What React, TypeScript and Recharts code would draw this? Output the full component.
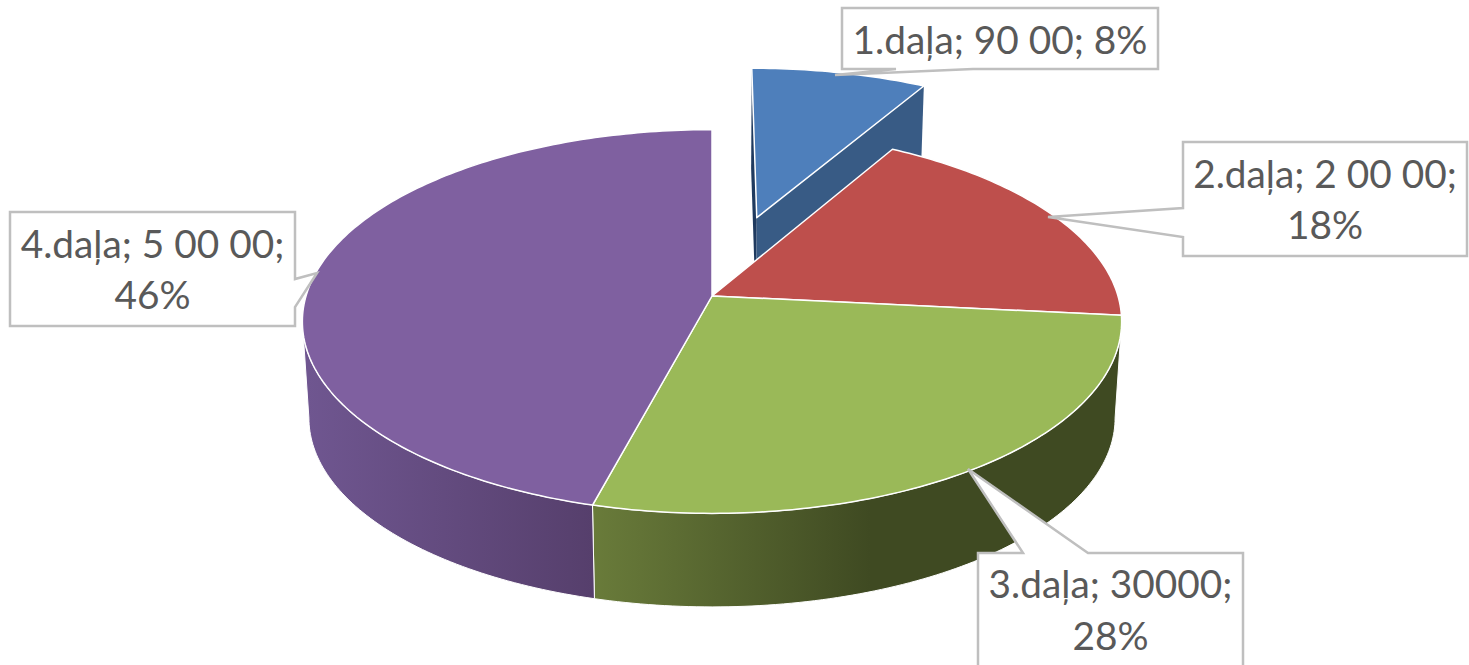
import { PieChart, Pie } from 'recharts'

const categories = ['1.daļa', '2.daļa', '3.daļa', '4.daļa']
const values = [90000, 200000, 300000, 500000]
const valueTexts = ['90 00', '2 00 00', '30000', '5 00 00']
const topColors = ['#4E7FBB', '#BE4F4C', '#9AB958', '#7F60A0']
const explodes = [0.455, 0, 0, 0]

const data = categories.map((name, i) => ({ name, value: values[i], fill: topColors[i] }))

// perspective of the tilted disc
const PERSP = -0.133
const SQUASH = 0.4642
const DEPTH = 97
const BASE_SCALE = 0.984

// wall gradients, left to right
const wallGradients: any = {
  '3.daļa': { x1: 595, x2: 870, from: '#697B3A', to: '#3F4A22' },
  '4.daļa': { x1: 308, x2: 593, from: '#6F5690', to: '#563F6C' },
}

// callout boxes: rect, pointer tip, and where the pointer leaves the box
const callouts = [
  { x: 842, y: 8, w: 316, h: 61, side: 'bottom', tip: [835, 75], a: 896, b: 973, lines: [54] },
  { x: 1183, y: 142, w: 284, h: 114, side: 'left', tip: [1048, 217], a: 208, b: 237, lines: [188, 239] },
  { x: 978, y: 553, w: 265, h: 130, side: 'top', tip: [968, 469], a: 1023, b: 1088, lines: [598, 650] },
  { x: 10, y: 212, w: 285, h: 114, side: 'right', tip: [317, 273], a: 279, b: 307, lines: [258, 309] },
]

const project = (r: number, u: number, v: number) => {
  const d = 1 + PERSP * v
  return [(r * u) / d, (SQUASH * r * v) / d]
}

const toBase = (p: number[]) => [p[0] * BASE_SCALE, p[1] * BASE_SCALE + DEPTH]

const pts = (list: number[][], cx: number, cy: number) =>
  list.map((p) => `${(p[0] + cx).toFixed(2)},${(p[1] + cy).toFixed(2)}`).join(' ')

function Slice3D(props: any) {
  const { cx, cy, outerRadius, startAngle, endAngle, name, fill } = props
  const i = categories.indexOf(name)
  const t0 = 90 - startAngle
  const t1 = 90 - endAngle
  const mid = (((t0 + t1) / 2) * Math.PI) / 180
  const k = explodes[i]
  const ou = k * Math.sin(mid)
  const ov = -k * Math.cos(mid)

  const at = (deg: number) => {
    const a = (deg * Math.PI) / 180
    return project(outerRadius, Math.sin(a) + ou, -Math.cos(a) + ov)
  }
  const arc = (from: number, to: number) => {
    const out = []
    const n = Math.max(2, Math.ceil(Math.abs(to - from)))
    for (let s = 0; s <= n; s++) out.push(at(from + ((to - from) * s) / n))
    return out
  }
  const apex = project(outerRadius, ou, ov)
  const top = [apex, ...arc(t0, t1)]

  // only the front of the rim can be seen
  const silhouette = (Math.acos(PERSP) * 180) / Math.PI
  const w0 = Math.max(t0, silhouette)
  const w1 = Math.min(t1, 360 - silhouette)
  const grad = wallGradients[name]
  const wall = w1 > w0 && !k ? arc(w0, w1) : null

  return (
    <g>
      {grad && (
        <linearGradient id={`wall-${i}`} gradientUnits="userSpaceOnUse" x1={grad.x1} x2={grad.x2} y1={0} y2={0}>
          <stop offset="0%" stopColor={grad.from} />
          <stop offset="100%" stopColor={grad.to} />
        </linearGradient>
      )}
      {k > 0 && (
        <>
          <polygon
            points={pts([at(t0), apex, toBase(apex), toBase(at(t0))], cx, cy)}
            fill="#1F3A5F"
          />
          <polygon
            points={pts([apex, at(t1), toBase(at(t1)), toBase(apex)], cx, cy)}
            fill="#385B85"
          />
        </>
      )}
      {wall && grad && (
        <polygon
          points={pts([...wall, ...wall.map(toBase).reverse()], cx, cy)}
          fill={`url(#wall-${i})`}
          stroke="#fff"
          strokeWidth={1}
        />
      )}
      <polygon points={pts(top, cx, cy)} fill={fill} stroke="#fff" strokeWidth={1.5} strokeLinejoin="round" />
    </g>
  )
}

function Callout(props: any) {
  const { name, percent } = props
  const i = categories.indexOf(name)
  const c = callouts[i]
  const pct = `${Math.round(percent * 100)}%`
  const head = `${name}; ${valueTexts[i]};`
  const lines = c.lines.length === 1 ? [`${head} ${pct}`] : [head, pct]
  const r = c.x + c.w
  const btm = c.y + c.h
  const tip = `${c.tip[0]},${c.tip[1]}`
  let path = ''
  if (c.side === 'bottom') {
    path = `${c.x},${c.y} ${r},${c.y} ${r},${btm} ${c.b},${btm} ${tip} ${c.a},${btm} ${c.x},${btm}`
  } else if (c.side === 'left') {
    path = `${c.x},${c.y} ${r},${c.y} ${r},${btm} ${c.x},${btm} ${c.x},${c.b} ${tip} ${c.x},${c.a}`
  } else if (c.side === 'top') {
    path = `${c.x},${c.y} ${c.a},${c.y} ${tip} ${c.b},${c.y} ${r},${c.y} ${r},${btm} ${c.x},${btm}`
  } else {
    path = `${c.x},${c.y} ${r},${c.y} ${r},${c.a} ${tip} ${r},${c.b} ${r},${btm} ${c.x},${btm}`
  }
  return (
    <g>
      <polygon points={path} fill="#fff" stroke="#BFBFBF" strokeWidth={2.5} />
      {lines.map((line, n) => (
        <text
          key={n}
          x={c.x + c.w / 2}
          y={c.lines[n]}
          textAnchor="middle"
          fontFamily="Lato, sans-serif"
          fontSize={38.8}
          fill="#595959"
        >
          {line}
        </text>
      ))}
    </g>
  )
}

export default function App() {
  return (
    <div style={{ position: 'absolute', left: 0, top: 0, width: 1469, height: 665, background: '#fff', overflow: 'hidden' }}>
      <PieChart width={1469} height={665} margin={{ top: 0, right: 0, bottom: 0, left: 0 }}>
        <Pie
          data={data}
          dataKey="value"
          nameKey="name"
          cx={712}
          cy={296}
          innerRadius={0}
          outerRadius={406}
          startAngle={90}
          endAngle={-270}
          stroke="none"
          isAnimationActive={false}
          shape={Slice3D}
          label={Callout}
          labelLine={false}
        />
      </PieChart>
    </div>
  )
}
